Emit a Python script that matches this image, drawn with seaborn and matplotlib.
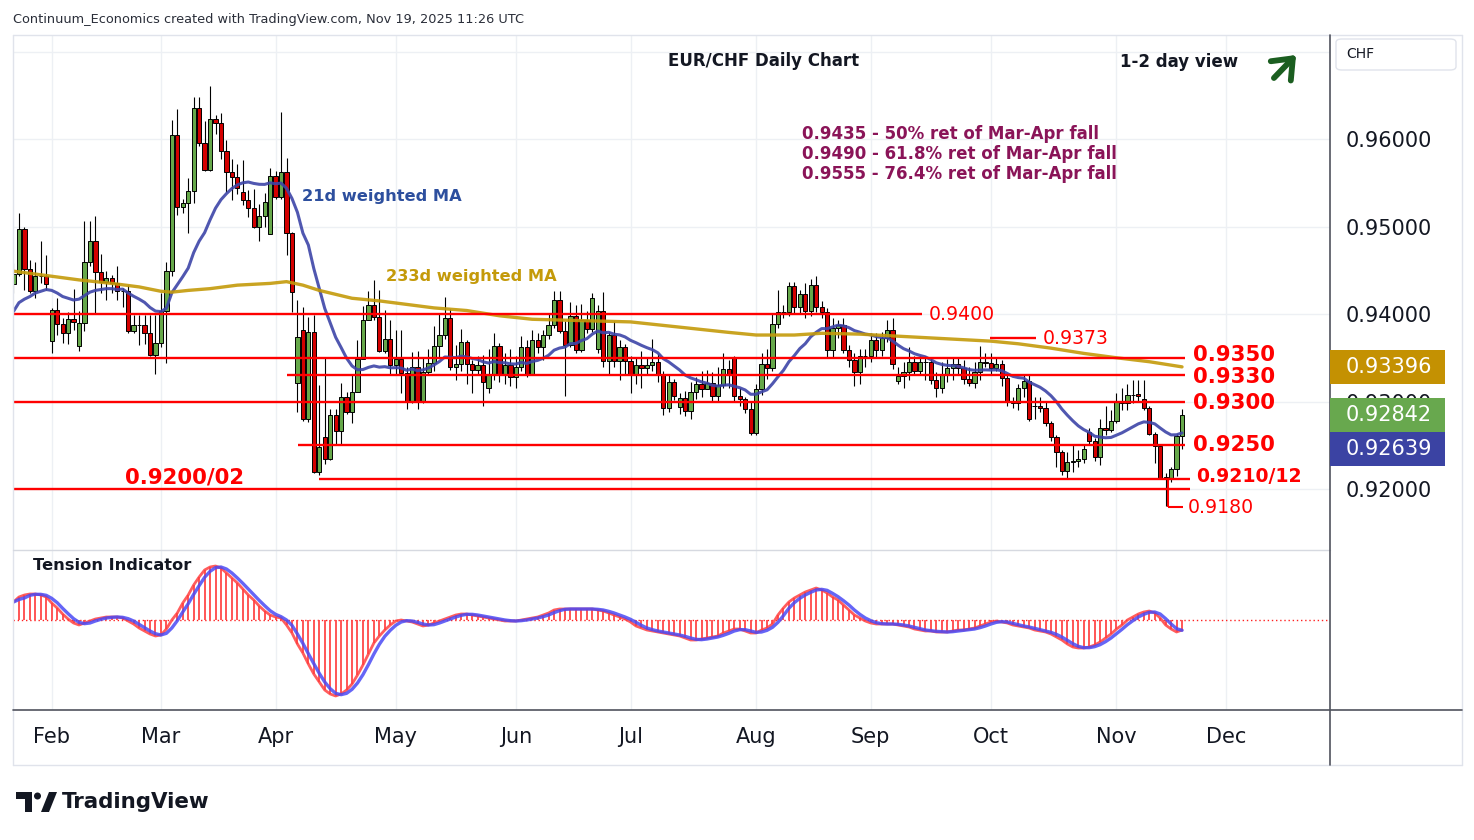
import numpy as np
import pandas as pd
import matplotlib
matplotlib.use("Agg")
import matplotlib.pyplot as plt
import matplotlib.transforms as mtransforms
from matplotlib.patches import Rectangle, FancyBboxPatch, Polygon, Circle
from matplotlib.lines import Line2D
import seaborn as sns

sns.set_style("white")
plt.rcParams["font.family"] = ["DejaVu Sans"]

# ---- data: EUR/CHF daily candles, 23 Jan 2025 .. 19 Nov 2025 (weekdays) ----
closes = [
    0.9446, 0.9497, 0.9452, 0.9426, 0.9444, 0.9443, 0.9434, 0.9405, 0.9389, 0.9378,
    0.9394, 0.9391, 0.9390, 0.9460, 0.9483, 0.9448, 0.9437, 0.9441, 0.9435, 0.9426,
    0.9426, 0.9381, 0.9387, 0.9387, 0.9378, 0.9353, 0.9367, 0.9403, 0.9449, 0.9605,
    0.9522, 0.9527, 0.9541, 0.9635, 0.9596, 0.9565, 0.9623, 0.9618, 0.9586, 0.9562,
    0.9557, 0.9544, 0.9530, 0.9521, 0.9500, 0.9512, 0.9528, 0.9558, 0.9534, 0.9562,
    0.9493, 0.9425, 0.9374, 0.9280, 0.9379, 0.9220, 0.9248, 0.9234, 0.9285, 0.9266,
    0.9305, 0.9288, 0.9311, 0.9349, 0.9393, 0.9410, 0.9397, 0.9358, 0.9371, 0.9342,
    0.9349, 0.9333, 0.9300, 0.9340, 0.9300, 0.9334, 0.9344, 0.9364, 0.9376, 0.9396,
    0.9340, 0.9343, 0.9368, 0.9343, 0.9336, 0.9342, 0.9322, 0.9332, 0.9364, 0.9330,
    0.9342, 0.9328, 0.9340, 0.9362, 0.9332, 0.9370, 0.9362, 0.9376, 0.9388, 0.9416,
    0.9381, 0.9365, 0.9398, 0.9359, 0.9393, 0.9383, 0.9418, 0.9404, 0.9346, 0.9376,
    0.9346, 0.9362, 0.9346, 0.9330, 0.9342, 0.9338, 0.9342, 0.9345, 0.9330, 0.9293,
    0.9322, 0.9306, 0.9304, 0.9289, 0.9311, 0.9320, 0.9314, 0.9321, 0.9306, 0.9319,
    0.9337, 0.9330, 0.9306, 0.9303, 0.9291, 0.9264, 0.9314, 0.9343, 0.9338, 0.9389,
    0.9402, 0.9402, 0.9432, 0.9408, 0.9423, 0.9403, 0.9433, 0.9408, 0.9402, 0.9359,
    0.9384, 0.9387, 0.9359, 0.9347, 0.9334, 0.9352, 0.9352, 0.9370, 0.9359, 0.9373,
    0.9382, 0.9343, 0.9329, 0.9334, 0.9345, 0.9335, 0.9345, 0.9345, 0.9325, 0.9315,
    0.9331, 0.9338, 0.9343, 0.9338, 0.9326, 0.9321, 0.9334, 0.9345, 0.9344, 0.9338,
    0.9343, 0.9327, 0.9300, 0.9298, 0.9316, 0.9324, 0.9280, 0.9295, 0.9293, 0.9276,
    0.9260, 0.9242, 0.9221, 0.9231, 0.9232, 0.9234, 0.9246, 0.9255, 0.9237, 0.9270,
    0.9268, 0.9278, 0.9300, 0.9298, 0.9307, 0.9308, 0.9306, 0.9293, 0.9263, 0.9249,
    0.9213, 0.9213, 0.9223, 0.9261, 0.92842,
]
highs = [
    0.9458, 0.9516, 0.9500, 0.9462, 0.9460, 0.9483, 0.9467, 0.9407, 0.9418, 0.9395,
    0.9402, 0.9429, 0.9403, 0.9506, 0.9506, 0.9512, 0.9469, 0.9449, 0.9445, 0.9455,
    0.9430, 0.9433, 0.9399, 0.9399, 0.9399, 0.9399, 0.9399, 0.9424, 0.9460, 0.9622,
    0.9634, 0.9532, 0.9555, 0.9648, 0.9648, 0.9621, 0.9661, 0.9627, 0.9630, 0.9599,
    0.9577, 0.9571, 0.9576, 0.9542, 0.9543, 0.9526, 0.9538, 0.9567, 0.9564, 0.9631,
    0.9578, 0.9494, 0.9416, 0.9408, 0.9397, 0.9399, 0.9319, 0.9351, 0.9292, 0.9292,
    0.9321, 0.9311, 0.9332, 0.9370, 0.9409, 0.9426, 0.9439, 0.9428, 0.9405, 0.9393,
    0.9382, 0.9382, 0.9340, 0.9357, 0.9358, 0.9350, 0.9360, 0.9386, 0.9400, 0.9419,
    0.9406, 0.9365, 0.9383, 0.9370, 0.9348, 0.9352, 0.9353, 0.9360, 0.9378, 0.9367,
    0.9356, 0.9360, 0.9352, 0.9375, 0.9370, 0.9382, 0.9378, 0.9382, 0.9401, 0.9426,
    0.9426, 0.9392, 0.9414, 0.9410, 0.9412, 0.9403, 0.9424, 0.9410, 0.9425, 0.9380,
    0.9392, 0.9370, 0.9366, 0.9352, 0.9350, 0.9358, 0.9350, 0.9372, 0.9354, 0.9335,
    0.9330, 0.9326, 0.9310, 0.9312, 0.9322, 0.9328, 0.9335, 0.9336, 0.9334, 0.9340,
    0.9355, 0.9348, 0.9352, 0.9315, 0.9305, 0.9300, 0.9320, 0.9355, 0.9360, 0.9400,
    0.9427, 0.9410, 0.9437, 0.9437, 0.9428, 0.9435, 0.9440, 0.9443, 0.9415, 0.9407,
    0.9396, 0.9393, 0.9395, 0.9365, 0.9355, 0.9360, 0.9360, 0.9378, 0.9378, 0.9380,
    0.9393, 0.9395, 0.9340, 0.9345, 0.9362, 0.9352, 0.9352, 0.9352, 0.9350, 0.9334,
    0.9345, 0.9349, 0.9350, 0.9350, 0.9348, 0.9340, 0.9345, 0.9364, 0.9355, 0.9355,
    0.9350, 0.9348, 0.9330, 0.9305, 0.9320, 0.9332, 0.9330, 0.9305, 0.9305, 0.9300,
    0.9278, 0.9262, 0.9245, 0.9242, 0.9250, 0.9245, 0.9250, 0.9270, 0.9258, 0.9280,
    0.9295, 0.9290, 0.9310, 0.9316, 0.9320, 0.9325, 0.9325, 0.9325, 0.9295, 0.9265,
    0.9252, 0.9218, 0.9225, 0.9263, 0.9291,
]
lows = [
    0.9424, 0.9443, 0.9427, 0.9424, 0.9418, 0.9435, 0.9427, 0.9356, 0.9376, 0.9367,
    0.9366, 0.9382, 0.9358, 0.9381, 0.9455, 0.9401, 0.9424, 0.9416, 0.9424, 0.9416,
    0.9408, 0.9378, 0.9378, 0.9365, 0.9366, 0.9352, 0.9332, 0.9362, 0.9344, 0.9443,
    0.9513, 0.9515, 0.9493, 0.9527, 0.9592, 0.9563, 0.9563, 0.9606, 0.9577, 0.9540,
    0.9530, 0.9537, 0.9525, 0.9511, 0.9498, 0.9484, 0.9500, 0.9491, 0.9532, 0.9532,
    0.9467, 0.9402, 0.9288, 0.9278, 0.9277, 0.9218, 0.9216, 0.9229, 0.9233, 0.9252,
    0.9250, 0.9286, 0.9275, 0.9311, 0.9349, 0.9393, 0.9393, 0.9357, 0.9355, 0.9332,
    0.9332, 0.9310, 0.9292, 0.9298, 0.9292, 0.9298, 0.9330, 0.9335, 0.9350, 0.9372,
    0.9336, 0.9325, 0.9335, 0.9320, 0.9310, 0.9330, 0.9295, 0.9310, 0.9325, 0.9322,
    0.9320, 0.9318, 0.9315, 0.9335, 0.9328, 0.9330, 0.9355, 0.9348, 0.9372, 0.9384,
    0.9378, 0.9306, 0.9362, 0.9356, 0.9357, 0.9378, 0.9380, 0.9355, 0.9340, 0.9330,
    0.9340, 0.9325, 0.9330, 0.9310, 0.9320, 0.9315, 0.9330, 0.9335, 0.9322, 0.9285,
    0.9288, 0.9302, 0.9286, 0.9284, 0.9280, 0.9303, 0.9305, 0.9315, 0.9300, 0.9300,
    0.9315, 0.9315, 0.9300, 0.9295, 0.9287, 0.9262, 0.9262, 0.9308, 0.9326, 0.9335,
    0.9384, 0.9395, 0.9398, 0.9400, 0.9400, 0.9395, 0.9398, 0.9402, 0.9395, 0.9350,
    0.9350, 0.9373, 0.9355, 0.9340, 0.9318, 0.9320, 0.9340, 0.9345, 0.9350, 0.9352,
    0.9368, 0.9337, 0.9320, 0.9315, 0.9325, 0.9330, 0.9330, 0.9325, 0.9320, 0.9305,
    0.9310, 0.9322, 0.9325, 0.9330, 0.9320, 0.9318, 0.9315, 0.9325, 0.9340, 0.9330,
    0.9335, 0.9318, 0.9295, 0.9293, 0.9290, 0.9305, 0.9278, 0.9280, 0.9288, 0.9272,
    0.9255, 0.9225, 0.9216, 0.9212, 0.9220, 0.9225, 0.9230, 0.9252, 0.9232, 0.9228,
    0.9262, 0.9265, 0.9275, 0.9290, 0.9290, 0.9298, 0.9300, 0.9290, 0.9262, 0.9230,
    0.9212, 0.9181, 0.9208, 0.9215, 0.9246,
]
first_open = 0.9434
# opens that differ from the previous close (weekend / intraday gaps)
gap_opens = {7: 0.9369, 12: 0.9363, 42: 0.9539, 47: 0.9492, 52: 0.9321,
             53: 0.9382, 57: 0.9259, 87: 0.9316, 107: 0.9360, 112: 0.9362,
             122: 0.9294, 132: 0.9350, 162: 0.9323, 187: 0.9295, 197: 0.9265,
             205: 0.9307, 206: 0.9309, 207: 0.9303}

# 21d weighted MA as shown for the first 20 sessions (needs earlier history)
wma21_head = [0.9403, 0.9413, 0.9417, 0.9420, 0.9424, 0.9426, 0.9428, 0.9427,
              0.9424, 0.9420, 0.9418, 0.9416, 0.9417, 0.9421, 0.9425, 0.9427,
              0.9428, 0.9429, 0.9429, 0.9428]

# 233d weighted MA readings
ma233_idx = [0, 6, 12, 18, 23, 27, 29, 32, 36, 41, 47, 50, 53, 56, 62, 67, 72,
             77, 83, 89, 95, 101, 107, 113, 119, 125, 131, 136, 143, 148, 155,
             161, 167, 173, 179, 184, 190, 196, 202, 208, 214]
ma233_val = [0.9449, 0.9444, 0.9439, 0.9435, 0.9431, 0.9426, 0.9425, 0.9427,
             0.9429, 0.9433, 0.9435, 0.9437, 0.9433, 0.9427, 0.9418, 0.9415,
             0.9411, 0.9407, 0.9404, 0.9398, 0.9394, 0.9393, 0.9392, 0.9391,
             0.9387, 0.9383, 0.9379, 0.9376, 0.9376, 0.9378, 0.9377, 0.9375,
             0.9373, 0.9371, 0.9369, 0.9366, 0.9361, 0.9355, 0.9350, 0.93455,
             0.93396]

# tension indicator (arbitrary units)
tension = [
    18, 23, 25, 26, 26, 25, 23, 17, 12, 6,
    1, -3, -5, -3, -1, 1, 2, 3, 3, 3,
    2, -1, -4, -8, -11, -14, -16, -15, -9, 0,
    7, 17, 25, 35, 43, 50, 53, 54, 52, 47,
    42, 37, 31, 25, 20, 14, 9, 5, 3, 2,
    -5, -13, -24, -33, -44, -54, -62, -70, -74, -76,
    -74, -70, -64, -55, -45, -34, -23, -16, -10, -5,
    -1, 0, -1, -2, -4, -6, -5, -3, -1, 1,
    3, 5, 6, 6, 5, 4, 3, 2, 1, 0,
    -1, -1, -1, 0, 1, 2, 3, 5, 7, 10,
    11, 11, 11, 11, 11, 11, 11, 10, 9, 7,
    5, 3, 1, -2, -6, -8, -10, -11, -12, -13,
    -14, -15, -16, -18, -20, -20, -19, -18, -17, -16,
    -13, -11, -9, -9, -11, -13, -13, -10, -8, -4,
    5, 12, 18, 22, 25, 28, 30, 32, 30, 27,
    23, 20, 15, 10, 5, 2, -1, -3, -4, -4,
    -4, -4, -5, -6, -7, -9, -10, -11, -11, -12,
    -12, -12, -11, -10, -10, -9, -8, -6, -4, -2,
    -1, -2, -3, -5, -6, -7, -8, -10, -11, -12,
    -14, -17, -20, -24, -27, -28, -28, -27, -25, -22,
    -18, -14, -9, -5, 0, 3, 6, 8, 9, 7,
    2, -5, -9, -12, -10,
]

month_names = ["Feb", "Mar", "Apr", "May", "Jun", "Jul", "Aug", "Sep", "Oct", "Nov", "Dec"]
month_idx = [7, 27, 48, 70, 92, 113, 136, 157, 179, 202, 222]
price_ticks = [0.92, 0.93, 0.94, 0.95, 0.96]
last_labels = ["0.93396", "0.92842", "0.92639"]

# ---- derived series ----
n = len(closes)
idx = np.arange(n)
c = np.array(closes)
o = np.r_[first_open, c[:-1]]
for k, v in gap_opens.items():
    o[k] = v
hi = np.maximum(np.array(highs), np.maximum(o, c))
lo = np.minimum(np.array(lows), np.minimum(o, c))

w = np.arange(1, 22)
wma = np.full(n, np.nan)
for k in range(20, n):
    wma[k] = np.dot(c[k - 20:k + 1], w) / w.sum()
wma[:20] = wma21_head

tens = pd.Series(tension, dtype=float)
tens_sig = tens.rolling(3, min_periods=1).mean()

# ---- figure ----
W, H = 1474, 840
fig = plt.figure(figsize=(W / 100, H / 100), dpi=100)
fig.patch.set_facecolor("white")


def fx(px):
    return px / W


def fy(py):
    return 1 - py / H


GREEN = "#66a84a"
RED = "#d40000"
GRID = "#edf0f4"
TXT = "#131722"

ax = fig.add_axes([fx(13), fy(550), fx(1330) - fx(13), fy(35) - fy(550)])
ax2 = fig.add_axes([fx(13), fy(710), fx(1330) - fx(13), fy(550) - fy(710)])

XL = (-0.09, 241.1)
for a in (ax, ax2):
    a.set_xlim(*XL)
    for s in a.spines.values():
        s.set_visible(False)
    a.set_xticks(month_idx)
    a.grid(True, axis="x", color=GRID, lw=1)

ax.set_ylim(0.91303, 0.97189)
ax.set_yticks(price_ticks)
ax.set_yticklabels([f"{v:.5f}" for v in price_ticks])
ax.yaxis.tick_right()
ax.tick_params(axis="y", length=0, pad=11.5, labelsize=15, labelcolor=TXT)
ax.tick_params(axis="x", length=0, labelbottom=False)
ax.grid(True, axis="y", color=GRID, lw=1)
ax.axhline(0.97, color=GRID, lw=1, zorder=0)

# candles
ax.vlines(idx, lo, hi, color="black", lw=0.8, zorder=3)
body_h = np.maximum(np.abs(c - o), 0.00004)
ax.bar(idx, body_h, bottom=np.minimum(o, c), width=0.78,
       color=np.where(c >= o, GREEN, RED), edgecolor="black", linewidth=0.7, zorder=4)

# moving averages
sns.lineplot(x=idx, y=wma, ax=ax, color="#3d45a8", lw=2.2, alpha=0.9, zorder=5, legend=False)
sns.lineplot(x=ma233_idx, y=ma233_val, ax=ax, color="#c49a0a", lw=2.4, alpha=0.9, zorder=5, legend=False)
ax.set_xlabel("")
ax.set_ylabel("")

# support / resistance levels: value, start, end
levels = [
    (0.9400, XL[0], 166.4),
    (0.9373, 178.8, 187.3),
    (0.9350, XL[0], 214.6),
    (0.9330, 50.1, 214.6),
    (0.9300, XL[0], 214.6),
    (0.9250, 52.1, 214.6),
    (0.9212, 55.9, 215.5),
    (0.9200, XL[0], 215.5),
]
for v, x0, x1 in levels:
    ax.hlines(v, x0, x1, color="#ff0000", lw=1.7, zorder=6)
ax.vlines(211.4, 0.9180, 0.9212, color="#ff0000", lw=1.5, zorder=6)
ax.hlines(0.9180, 211.4, 214.2, color="#ff0000", lw=1.5, zorder=6)


def lvl_text(x, y, s, dy, size, bold):
    tr = mtransforms.offset_copy(ax.transData, fig=fig, y=-dy, units="dots")
    ax.text(x, y, s, transform=tr, color="#ff0000", fontsize=size,
            fontweight="bold" if bold else "normal", ha="left", va="center", zorder=7)


lvl_text(167.7, 0.9400, "0.9400", 0, 13.6, False)
lvl_text(188.5, 0.9373, "0.9373", 1, 13.6, False)
lvl_text(216.0, 0.9350, "0.9350", -3, 15.3, True)
lvl_text(216.0, 0.9330, "0.9330", 2, 15.3, True)
lvl_text(216.0, 0.9300, "0.9300", 1, 15.3, True)
lvl_text(216.0, 0.9250, "0.9250", 0, 15.3, True)
lvl_text(216.5, 0.9212, "0.9210/12", -2, 13.6, True)
lvl_text(20.4, 0.9200, "0.9200/02", -12, 15.3, True)
lvl_text(215.1, 0.9180, "0.9180", 1, 13.6, False)

# ---- tension pane ----
ax2.set_ylim(-90, 70)
ax2.set_yticks([])
ax2.vlines(idx, 0, tens, color="#ff4848", lw=1.3, zorder=3)
ax2.axhline(0, color="#ff2020", lw=1.0, ls=(0, (1, 2)), zorder=2)
sns.lineplot(x=idx, y=tens, ax=ax2, color="#ff4040", lw=2.0, alpha=0.85, zorder=4, legend=False)
sns.lineplot(x=idx, y=tens_sig, ax=ax2, color="#4a4af5", lw=2.4, alpha=0.85, zorder=5, legend=False)
ax2.set_xlabel("")
ax2.set_ylabel("")
ax2.set_xticklabels(month_names)
ax2.tick_params(axis="x", length=0, pad=12, labelsize=15, labelcolor=TXT)

# ---- frame lines ----
def fline(x0, y0, x1, y1, color, lw):
    fig.add_artist(Line2D([fx(x0), fx(x1)], [fy(y0), fy(y1)], color=color, lw=lw,
                          transform=fig.transFigure))


fline(13, 35, 1462, 35, "#e0e3eb", 1)
fline(13, 35, 13, 765, "#e0e3eb", 1)
fline(1462, 35, 1462, 765, "#e0e3eb", 1)
fline(13, 765, 1462, 765, "#e0e3eb", 1)
fline(13, 550, 1330, 550, "#d6d9e0", 1)
fline(13, 710, 1462, 710, "#50535e", 1.2)
fline(1330, 35, 1330, 765, "#50535e", 1.2)

# ---- last value boxes on the price scale ----
box_vals = [ma233_val[-1], c[-1], wma[-1]]
box_cols = ["#c49102", "#68a84e", "#3b43a3"]
half = 17 / 8750
centers = []
for v in box_vals:
    if centers and v > centers[-1] - 2 * half:
        v = centers[-1] - 2 * half
    centers.append(v)
btr = mtransforms.blended_transform_factory(fig.transFigure, ax.transData)
for s, yc, col in zip(last_labels, centers, box_cols):
    fig.add_artist(Rectangle((fx(1330), yc - half), fx(1445) - fx(1330), 2 * half,
                             transform=btr, facecolor=col, edgecolor="none", zorder=5))
    fig.text(fx(1346), yc, s, transform=btr, color="white", fontsize=15,
             ha="left", va="center", zorder=6)

# CHF box
fig.add_artist(FancyBboxPatch((fx(1336), fy(70)), fx(1456) - fx(1336), fy(39) - fy(70),
                              boxstyle="round,pad=0,rounding_size=0.004",
                              transform=fig.transFigure, facecolor="white",
                              edgecolor="#e0e3eb", lw=1, zorder=5))
fig.text(fx(1346), fy(54), "CHF", fontsize=10, color=TXT, ha="left", va="center", zorder=6)

# ---- texts ----
fig.text(fx(13), fy(19), "Continuum_Economics created with TradingView.com, Nov 19, 2025 11:26 UTC",
         fontsize=9.3, color="#2a2e39", ha="left", va="center")
fig.text(fx(668), fy(61), "EUR/CHF Daily Chart", fontsize=12, fontweight="bold",
         color=TXT, ha="left", va="center")
fig.text(fx(1120), fy(62), "1-2 day view", fontsize=12, fontweight="bold",
         color=TXT, ha="left", va="center")
fig.add_artist(matplotlib.patches.FancyArrowPatch(
    (fx(1272), fy(80)), (fx(1298), fy(53)), transform=fig.transFigure,
    arrowstyle="->,head_length=5,head_width=4", color="#1b5e20", lw=4.2,
    mutation_scale=2.5, zorder=6))

for k, s in enumerate(["0.9435 - 50% ret of Mar-Apr fall",
                       "0.9490 - 61.8% ret of Mar-Apr fall",
                       "0.9555 - 76.4% ret of Mar-Apr fall"]):
    fig.text(fx(802), fy(134 + 20 * k), s, fontsize=12, fontweight="bold",
             color="#8a1458", ha="left", va="center")

fig.text(fx(302), fy(197), "21d weighted MA", fontsize=11.7, fontweight="bold",
         color="#2d4f9e", ha="left", va="center")
fig.text(fx(386), fy(276), "233d weighted MA", fontsize=11.7, fontweight="bold",
         color="#c49a0a", ha="left", va="center")
fig.text(fx(33), fy(565), "Tension Indicator", fontsize=11.7, fontweight="bold",
         color=TXT, ha="left", va="center")

# ---- TradingView logo ----
dtr = fig.dpi_scale_trans


def P(x, y):
    return (x / 100, (H - y) / 100)


fig.add_artist(Polygon([P(16, 792), P(32, 792), P(32, 812), P(25, 812), P(25, 799), P(16, 799)],
                       closed=True, transform=dtr, facecolor=TXT, edgecolor="none"))
fig.add_artist(Circle(P(37.5, 796), 0.035, transform=dtr, facecolor=TXT, edgecolor="none"))
fig.add_artist(Polygon([P(41, 812), P(49, 792), P(57, 792), P(49, 812)],
                       closed=True, transform=dtr, facecolor=TXT, edgecolor="none"))
fig.text(fx(62), fy(802), "TradingView", fontsize=15.4, fontweight="bold",
         color=TXT, ha="left", va="center")

fig.savefig("out.png", dpi=100, facecolor="white")
